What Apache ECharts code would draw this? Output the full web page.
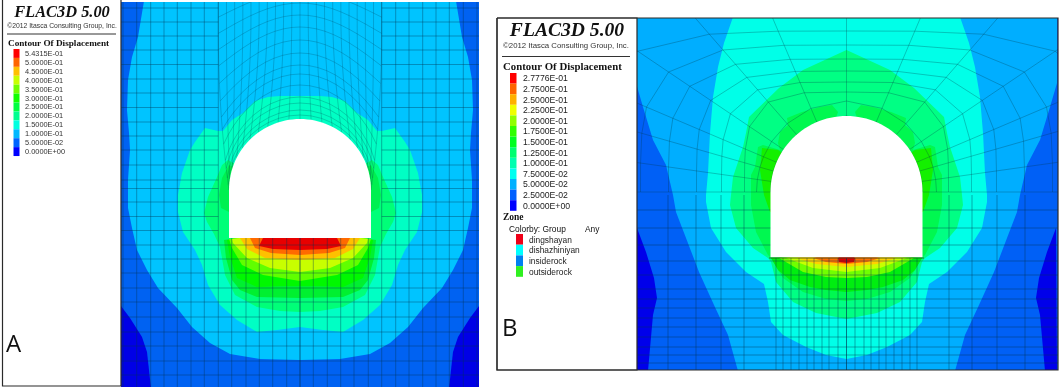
<!DOCTYPE html>
<html><head><meta charset="utf-8">
<script src="https://cdn.jsdelivr.net/npm/echarts@6/dist/echarts.min.js"></script>
<style>html,body{margin:0;padding:0;background:#fff}#c{width:1059px;height:389px;filter:blur(0.5px)}</style>
</head><body><div id="c"></div>
<script>
// ---------- legend content ----------
const labelsA = ["5.4315E-01","5.0000E-01","4.5000E-01","4.0000E-01","3.5000E-01","3.0000E-01","2.5000E-01","2.0000E-01","1.5000E-01","1.0000E-01","5.0000E-02","0.0000E+00"];
const coloursA = ["#ff0000","#ff6400","#ffc000","#c8ff00","#70ff00","#10ff00","#00ff40","#00ff90","#00ffe0","#00b8ff","#0064ff","#0000ff"];
const labelsB = ["2.7776E-01","2.7500E-01","2.5000E-01","2.2500E-01","2.0000E-01","1.7500E-01","1.5000E-01","1.2500E-01","1.0000E-01","7.5000E-02","5.0000E-02","2.5000E-02","0.0000E+00"];
const coloursB = ["#ff0000","#ff6400","#ffb000","#f0ff00","#90ff00","#30ff00","#00ff20","#00ff70","#00ffb0","#00fff0","#00b0ff","#0060ff","#0000ff"];
const zoneNames = ["dingshayan","dishazhiniyan","insiderock","outsiderock"];
const zoneColours = ["#f00018","#00ffff","#0080f0","#30f020"];

// ---------- contour boundaries (left half, panel coordinates) ----------
const cxA = 300, cxB = 846.5;
const deepA = [[121,306],[130,318],[142,337],[147,352],[151,388],[121,388]];
const skyA = [[144,1],[138,37],[132,57],[128,80],[127,110],[129,133],[130,150],[128,180],[128,208],[132,228],[137,250],[147,270],[158,288],[177,308],[192,327],[210,343],[230,354],[260,359],[300,360]];
const aquaA = [[300,96],[280,96],[268,97],[255,101],[243,113],[232,120],[223,131],[218,131],[205,128],[195,142],[190,150],[182,173],[178,195],[178,212],[183,232],[195,250],[202,265],[208,285],[220,305],[237,320],[257,332],[277,330],[300,327]];
const springA = [[300,200],[228,160],[222,165],[217,177],[208,197],[204,213],[207,222],[214,234],[220,247],[225,275],[235,295],[257,307],[280,311],[300,312]];
const wallA = [[300,200],[229,165],[222,178],[219,195],[221,208],[229,212]];
const midA = [[300,230],[224,240],[226,258],[232,280],[240,290],[257,297],[300,298]];
const greenA = [[300,230],[227,240],[230,257],[237,278],[257,287],[280,286],[300,286]];
const limeA = [[300,230],[229,239],[232,248],[242,265],[263,275],[300,281]];
const yellowA = [[300,230],[232,239],[233,243],[247,258],[270,268],[300,272]];
const amberA = [[300,230],[240,238],[247,249],[265,258],[300,260]];
const orangeA = [[300,230],[250,238],[255,248],[271,253],[300,255]];
const redA = [[300,230],[263,238],[259,246],[273,249],[300,250]];

const deepB = [[637,228],[646,252],[654,278],[657,298],[653,315],[648,371],[636,371]];
const skyB = [[636,17],[636,83],[643,107],[653,140],[666,165],[673,195],[676,212],[686,238],[699,272],[714,305],[728,335],[738,371]];
const cyanB = [[733,17],[724,43],[718,67],[713,97],[710,133],[708,173],[706,195],[706,202],[711,228],[726,252],[746,272],[764,284],[768,302],[771,322],[783,335],[806,347],[826,355],[846.5,359]];
const aquaB = [[846.5,50],[803,70],[779,88],[749,117],[746,133],[743,147],[733,177],[731,195],[730,205],[736,228],[753,248],[768,258],[771,262],[776,282],[793,302],[816,313],[846.5,319]];
const midB = [[846.5,180],[836,118],[838,112],[832,105],[820,107],[802,112],[787,118],[788,125],[780,132],[778,143],[780,150],[763,145],[758,147],[755,167],[751,175],[751,195],[751,205],[756,232],[768,255],[771,258],[783,278],[803,292],[826,299],[846.5,301]];
const innerB = [[846.5,195],[778,150],[762,148],[760,170],[764,195],[770,212]];
const greenB = [[846.5,250],[771,258],[778,270],[790,280],[810,287],[826,290],[846.5,292]];
const limeB = [[846.5,250],[779,258],[803,272],[826,277],[846.5,278]];
const yellowB = [[846.5,250],[786,258],[813,268],[846.5,272]];
const amberB = [[846.5,250],[796,258],[816,264],[846.5,267]];
const orangeB = [[846.5,250],[813,258],[826,262],[846.5,264]];
const redB = [[846.5,250],[838,258],[839,262],[846.5,263]];

// ---------- mesh lines (panel coordinates) ----------
const meshVA = [123,136.7,150.7,164,177.3,191,204.3,218.3];
const meshFloorVA = [231.7,246,259.3,272.7,286.7,300];
const meshUpperHA = [8,22,36,50,64.5,79,93,107.5,122,136,150,165,180,188.5,202,216.5,230.5];
const meshLowerHA = [245,259,273,288,302,317,332,346,361,375];
const ringCentreA = [115,110,103,97,85,74,65,53,40,27,15,3,-9,-21,-33];
const meshVB = [668,696,721,744];
const meshFloorVB = [776,783,791,799,807,814,822,829,838,846.5];
const meshHB = [210,228,245,261,275,289,299,308,318,327,337,347,355,363];
const spokeDegB = [180,172,164,157,146,131,113,90,67,49,34,23,16,8,0];
const ringsB = [[76,76,2],[90,91,2],[102,100,4],[125,110,4],[150,121,4],[178,133,4],[206,147,4],[260,161,4]];

// ---------- helpers ----------
const mirror = (h, cx) => h.concat(h.slice().reverse().map(p => [2*cx - p[0], p[1]]));
const flip = (h, cx) => h.map(p => [2*cx - p[0], p[1]]);
const poly = (pts, color) => ({pts, color});
const rectPts = (x0,y0,x1,y1) => [[x0,y0],[x1,y0],[x1,y1],[x0,y1]];

const archDeg = []; for (let d = 180; d >= 0; d -= 3) archDeg.push(d);
function opening(cx, r, cy, floor) {
  const p = [[cx - r, floor]];
  archDeg.forEach(d => p.push([cx + r*Math.cos(d*Math.PI/180), cy - r*Math.sin(d*Math.PI/180)]));
  p.push([cx + r, floor]);
  return p;
}

const fillsA = [
  poly(rectPts(120,0,480,388), "#0062f2"),
  poly(deepA, "#0000e6"), poly(flip(deepA,cxA), "#0000e6"),
  poly(mirror(skyA,cxA), "#00c4ff"),
  poly(mirror(aquaA,cxA), "#00ffc4"),
  poly(mirror(springA,cxA), "#00ff78"),
  poly(mirror(wallA,cxA), "#00f050"),
  poly(mirror(midA,cxA), "#00f030"),
  poly(mirror(greenA,cxA), "#00f800"),
  poly(mirror(limeA,cxA), "#60ff00"),
  poly(mirror(yellowA,cxA), "#c8ff00"),
  poly(mirror(amberA,cxA), "#ffc000"),
  poly(mirror(orangeA,cxA), "#ff6a00"),
  poly(mirror(redA,cxA), "#e80000")
];
const fillsB = [
  poly(rectPts(636,17,1058,371), "#0060f6"),
  poly(deepB, "#0000ea"), poly(flip(deepB,cxB), "#0000ea"),
  poly(mirror(skyB,cxB), "#00aeff"),
  poly(mirror(cyanB,cxB), "#00ffe8"),
  poly(mirror(aquaB,cxB), "#00ff84"),
  poly(mirror(midB,cxB), "#00f850"),
  poly(mirror(innerB,cxB), "#14f000"),
  poly(mirror(greenB,cxB), "#00ee10"),
  poly(mirror(limeB,cxB), "#70ff00"),
  poly(mirror(yellowB,cxB), "#c8ff00"),
  poly(mirror(amberB,cxB), "#ffd000"),
  poly(mirror(orangeB,cxB), "#ff7000"),
  poly(mirror(redB,cxB), "#e00000")
];

// panel A mesh
const linesA = [];
meshVA.forEach(x => { linesA.push([[x,1],[x,388]]); linesA.push([[600-x,1],[600-x,388]]); });
meshFloorVA.forEach(x => { linesA.push([[x,238],[x,388]]); linesA.push([[600-x,238],[600-x,388]]); });
meshUpperHA.forEach(y => { linesA.push([[120,y],[218.3,y]]); linesA.push([[381.7,y],[480,y]]); });
meshLowerHA.forEach(y => linesA.push([[120,y],[480,y]]));
const spokeK = []; for (let k = 0; k <= 20; k++) spokeK.push(k);
function nodeA(k, c) {
  const a = (180 - 9*k)*Math.PI/180, px = cxA + 71*Math.cos(a), xi = 218.3 + 8.17*k;
  const t = Math.min(1, (119-c)/116), g = 1 - (1-t)*(1-t);
  return [px + (xi-px)*g, c + (1-Math.sin(a))*(71 - 0.35*(119-c))];
}
const ringLinesA = ringCentreA.map(c => spokeK.map(k => nodeA(k,c)));
const spokeLinesA = spokeK.map(k => [[119].concat(ringCentreA.slice(0,12)).map(c => nodeA(k,c)), [[218.3+8.17*k,1]]].flat());

// panel B mesh
const linesB = [];
meshVB.forEach(x => { linesB.push([[x,195],[x,371]]); linesB.push([[2*cxB-x,195],[2*cxB-x,371]]); });
meshFloorVB.forEach(x => { linesB.push([[x,258],[x,371]]); linesB.push([[2*cxB-x,258],[2*cxB-x,371]]); });
meshHB.forEach(y => linesB.push([[636,y],[1058,y]]));
function nodeB(d, ring) {
  const a = d*Math.PI/180, c = Math.abs(Math.cos(a)), s = Math.abs(Math.sin(a));
  const r = Math.pow(Math.pow(c/ring[0],ring[2]) + Math.pow(s/ring[1],ring[2]), -1/ring[2]);
  return [cxB + r*Math.cos(a), 192 - r*Math.sin(a)];
}
const ringLinesB = ringsB.map(ring => spokeDegB.map(d => nodeB(d,ring)));
const spokeLinesB = spokeDegB.map(d => {
  const a = d*Math.PI/180;
  return [nodeB(d,ringsB[0]), [cxB + 420*Math.cos(a), 192 - 420*Math.sin(a)]];
});

// ---------- series builders ----------
function polySeries(xi, shapes) {
  return {type:'custom', xAxisIndex:xi, yAxisIndex:xi, clip:true, silent:true, animation:false,
    data: shapes.map((s,i)=>[i]),
    renderItem:(p,api)=>{const s=shapes[api.value(0)];
      return {type:'polygon', shape:{points:s.pts.map(q=>api.coord(q))}, style:{fill:s.color}};}};
}
function lineSeries(xi, lines, color, width) {
  return {type:'custom', xAxisIndex:xi, yAxisIndex:xi, clip:true, silent:true, animation:false,
    data: lines.map((s,i)=>[i]),
    renderItem:(p,api)=>({type:'polyline', shape:{points:lines[api.value(0)].map(q=>api.coord(q))}, style:{fill:null, stroke:color, lineWidth:width}})};
}
function textSeries(items) {
  return {type:'custom', xAxisIndex:0, yAxisIndex:0, silent:true, animation:false,
    data: items.map((s,i)=>[i]),
    renderItem:(p,api)=>{const t=items[api.value(0)], c=api.coord([t.x,t.y]);
      return {type:'text', style:{text:t.text, x:c[0], y:c[1], font:t.font, fill:t.fill||'#111', textAlign:t.align||'left', textVerticalAlign:'middle'}};}};
}

// ---------- legend marks ----------
const swatches = [];
coloursA.forEach((c,i)=>swatches.push(poly(rectPts(13.5,49+i*8.92,19.5,49+(i+1)*8.92),c)));
coloursB.forEach((c,i)=>swatches.push(poly(rectPts(510,73+i*10.6,516.5,73+(i+1)*10.6),c)));
zoneColours.forEach((c,i)=>swatches.push(poly(rectPts(516,234+i*10.7,523,234+(i+1)*10.7),c)));

const SERIF='"Liberation Serif"', SANS='"Liberation Sans"';
const texts = [
  {text:"FLAC3D 5.00",x:62,y:12.5,font:`italic bold 16.4px ${SERIF}`,align:'center'},
  {text:"©2012 Itasca Consulting Group, Inc.",x:62,y:26,font:`6.8px ${SANS}`,align:'center',fill:'#333'},
  {text:"Contour Of Displacement",x:8,y:44,font:`bold 9.2px ${SERIF}`},
  {text:"FLAC3D 5.00",x:567,y:31,font:`italic bold 19.6px ${SERIF}`,align:'center'},
  {text:"©2012 Itasca Consulting Group, Inc.",x:566,y:46,font:`7.8px ${SANS}`,align:'center',fill:'#333'},
  {text:"Contour Of Displacement",x:503,y:67,font:`bold 10.8px ${SERIF}`},
  {text:"Zone",x:503,y:218,font:`bold 9.5px ${SERIF}`},
  {text:"Colorby: Group",x:509,y:230,font:`8.4px ${SANS}`},
  {text:"Any",x:585,y:230,font:`8.4px ${SANS}`},
  {text:"A",x:6,y:345,font:`24px "Open Sans"`,fill:'#111'},
  {text:"B",x:502,y:329,font:`24px "Open Sans"`,fill:'#111'}
];
labelsA.forEach((t,i)=>texts.push({text:t,x:25,y:53.7+i*8.96,font:`7.4px ${SANS}`,fill:'#333'}));
labelsB.forEach((t,i)=>texts.push({text:t,x:523,y:79+i*10.6,font:`8.7px ${SANS}`,fill:'#222'}));
zoneNames.forEach((t,i)=>texts.push({text:t,x:529,y:240.5+i*10.6,font:`8.4px ${SANS}`,fill:'#222'}));

const frames = [rectPts(2.5,-2,121,386), rectPts(497,18,637,370), [[497,18],[1058,18],[1058,370],[497,370]]];
const framesSeries = lineSeries(0, frames.map(f=>f.concat([f[0]])), '#2a2a2a', 1.2);
const rules = [[[7,34],[116,34]],[[502,56.5],[630,56.5]]];

const hidden = {show:false};
const ax = (gi,min,max,inv)=>({type:'value',gridIndex:gi,min,max,inverse:!!inv,axisLine:hidden,axisTick:hidden,axisLabel:hidden,splitLine:hidden,show:false});

const chart = echarts.init(document.getElementById('c'), null, {renderer:'canvas', width:1059, height:389});
chart.setOption({
  animation:false,
  backgroundColor:'#fff',
  grid:[
    {left:0,top:0,width:1059,height:389,containLabel:false},
    {left:121,top:2,width:358,height:385,containLabel:false},
    {left:637,top:18,width:420.5,height:352,containLabel:false}
  ],
  xAxis:[ax(0,0,1059),ax(1,121,479),ax(2,637,1057.5)],
  yAxis:[ax(0,0,389,true),ax(1,2,387,true),ax(2,18,370,true)],
  series:[
    polySeries(1, fillsA),
    lineSeries(1, linesA, 'rgba(0,50,80,0.42)', 0.9),
    lineSeries(1, ringLinesA.concat(spokeLinesA), 'rgba(0,50,70,0.32)', 0.7),
    polySeries(1, [poly(opening(cxA,71,190,238),'#ffffff')]),
    polySeries(2, fillsB),
    lineSeries(2, linesB, 'rgba(0,50,80,0.45)', 0.9),
    lineSeries(2, ringLinesB.concat(spokeLinesB), 'rgba(0,55,70,0.36)', 0.8),
    polySeries(2, [poly(opening(cxB,76,192,257.3),'#ffffff')]),
    lineSeries(2, [[[769,258],[924,258]]], 'rgba(40,70,30,0.75)', 1),
    polySeries(0, swatches),
    framesSeries,
    lineSeries(0, rules, '#333', 1),
    textSeries(texts)
  ]
});
</script></body></html>
